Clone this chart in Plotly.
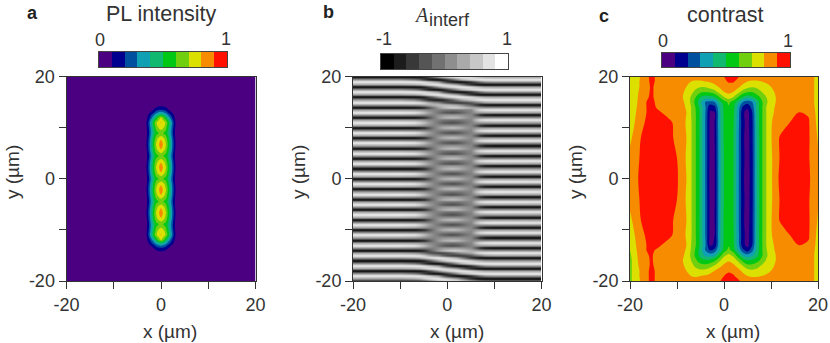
"""Three-panel map figure: PL intensity, interference amplitude and fringe contrast."""

import plotly.graph_objects as go

W, H = 830, 343

# shared band colours of the 0..1 rainbow scale
band_colors = ["#4b0082", "#00008f", "#0050a0", "#10a0b4", "#10b870",
               "#00c814", "#70d010", "#dce000", "#f88c00", "#ff1000"]
band_values = [0.05, 0.15, 0.25, 0.35, 0.45, 0.55, 0.65, 0.75, 0.85, 0.95]
grey_values = [-1, -0.78, -0.56, -0.33, -0.11, 0.11, 0.33, 0.56, 0.78, 1]

tick_vals = [-20, -10, 0, 10, 20]
tick_text = ["-20", "", "0", "", "20"]

# panel a: PL intensity in percent
pl_x = [-20, -3.5, -3, -2.5, -2, -1.5, -1, -0.5, 0, 0.5, 1, 1.5, 2, 2.5, 3, 3.5, 20]
pl_y = [20, 15, 14.2, 13.5, 13, 12.5, 12, 11, 10, 8.9, 7.8, 6.7, 5.6, 4.45, 3.3, 2.2, 1.1, 0,
        -1.1, -2.2, -3.3, -4.45, -5.6, -6.7, -7.8, -8.9, -10, -11, -12, -12.5, -13, -13.5, -14.2, -15, -20]
lobe = [0, 4, 11, 26, 42, 58, 71, 77, 91, 77, 71, 58, 42, 26, 11, 4, 0]
shoulder = [0, 4, 10, 24, 40, 54, 67, 73, 78, 73, 67, 54, 40, 24, 10, 4, 0]
valley = [0, 3, 9, 20, 35, 47, 56, 60, 62, 60, 56, 47, 35, 20, 9, 3, 0]
pl_cap = [
    [0, 1, 1, 1, 1, 1, 1, 1, 1, 1, 1, 1, 1, 1, 1, 1, 0],
    [0, 1, 1, 2, 2, 3, 4, 5, 5, 5, 4, 3, 2, 2, 1, 1, 0],
    [0, 1, 2, 3, 4, 5, 7, 9, 10, 9, 7, 5, 4, 3, 2, 1, 0],
    [0, 1, 2, 4, 7, 11, 16, 19, 20, 19, 16, 11, 7, 4, 2, 1, 0],
    [0, 2, 4, 8, 12, 18, 25, 30, 32, 30, 25, 18, 12, 8, 4, 2, 0],
    [0, 3, 7, 12, 20, 28, 37, 44, 48, 44, 37, 28, 20, 12, 7, 3, 0],
    [0, 3, 8, 16, 27, 38, 50, 62, 70, 62, 50, 38, 27, 16, 8, 3, 0],
    [0, 4, 11, 25, 41, 56, 69, 75, 81, 75, 69, 56, 41, 25, 11, 4, 0],
    [0, 4, 10, 22, 37, 51, 64, 71, 75, 71, 64, 51, 37, 22, 10, 4, 0],
]
pl_top = pl_cap + [valley, shoulder, lobe, shoulder, valley, shoulder, lobe, shoulder, valley]
pl_rows = pl_top + pl_top[-2::-1]

# panel b: interference amplitude in percent, rows repeat with the 2 um fringe period
fringe_x = [-20, -10, -7, -6, -5, -4, -3, -2, -1, 0, 1, 2, 3, 4, 5, 6, 7, 8, 10, 20]
fringe_y = [20 - i * 0.5 for i in range(81)]
mid_even = [-100, -100, -98, -88, -72, -42, -8, 19, 38, 45, 51, 45, 35, 19, 8, 15, 20, 22, 25, 22]
mid_half = [25, 25, 22, 18, 12, 6, 3, 10, 16, 18, 20, 18, 15, 10, 5, -35, -72, -92, -100, -98]
mid_odd = [88, 90, 85, 72, 52, 30, 10, -9, -28, -35, -41, -35, -25, -9, 2, 15, 20, 22, 25, 22]
mid_late = [25, 25, 22, 18, 12, 6, 3, 0, -6, -8, -10, -8, -5, 0, 5, 52, 75, 85, 88, 85]
end_even = [-100, -100, -98, -94, -76, -49, -14, 25, 54, 70, 81, 87, 87, 81, 70, 54, 41, 29, 25, 25]
end_half = [25, 25, 35, 44, 62, 76, 85, 88, 81, 70, 54, 35, 5, -32, -63, -86, -96, -100, -100, -100]
end_odd = [88, 88, 87, 85, 76, 62, 44, 25, -32, -63, -86, -98, -98, -86, -63, -32, -6, 16, 25, 25]
end_late = [25, 25, 5, -14, -49, -76, -94, -100, -86, -63, -32, 5, 35, 54, 70, 81, 86, 88, 88, 88]
edge_late = [25, 25, 5, -14, -46, -68, -80, -85, -74, -54, -28, 5, 30, 48, 62, 76, 86, 88, 88, 88]
edge_odd = [88, 88, 87, 83, 68, 46, 25, 12, -20, -38, -50, -58, -58, -50, -38, -15, -4, 16, 25, 25]
edge_half = [25, 25, 28, 31, 37, 41, 44, 49, 48, 44, 37, 26, 10, -11, -29, -60, -84, -96, -100, -99]
edge_even = [-100, -100, -98, -91, -74, -45, -11, 22, 46, 57, 66, 66, 61, 50, 39, 34, 30, 25, 25, 23]
edge_low = [25, 25, 13, 2, -18, -35, -45, -50, -46, -35, -21, -1, 15, 27, 37, 66, 80, 86, 88, 86]
fringe_rows = (
    [end_even, end_late, end_odd, end_half] * 2
    + [end_even, edge_late, edge_odd, edge_half, edge_even]
    + [mid_late, mid_odd, mid_half, mid_even] * 13
    + [mid_late, mid_odd, mid_half]
    + [edge_even, edge_low, edge_odd, end_half]
    + [end_even, end_late, end_odd, end_half] * 2
    + [end_even]
)

# panel c: fringe contrast in percent
contrast_x = [-20, -19, -18, -16.5, -15.5, -14, -12, -10, -9, -8, -7, -6, -5, -4, -3, -2, -1, 0,
              1, 2, 3, 4, 5, 6, 7, 8, 9, 10, 11, 12, 14, 16, 18, 19, 20]
contrast_y = [20, 19, 18, 17, 16, 15, 14, 13, 11, 8, 4, 0, -4, -8, -11, -13, -14, -15, -16, -17, -18, -19, -20]
contrast_rows = [
    [70, 76, 79, 88, 92, 88, 85, 85, 85, 84, 84, 84, 84, 85, 85, 86, 87, 90, 94, 95, 91, 87, 85, 84, 84, 84, 85, 85, 86, 86, 86, 85, 84, 81, 76],
    [70, 76, 80, 87, 92, 88, 85, 85, 83, 81, 80, 79, 79, 80, 81, 83, 85, 88, 91, 91, 87, 83, 80, 79, 79, 80, 81, 83, 84, 85, 85, 86, 85, 81, 76],
    [71, 76, 80, 87, 91, 88, 85, 84, 83, 80, 76, 73, 71, 71, 74, 77, 81, 84, 86, 85, 82, 77, 73, 71, 72, 75, 78, 80, 82, 84, 85, 86, 85, 81, 76],
    [71, 76, 81, 88, 91, 88, 85, 83, 81, 79, 73, 67, 62, 61, 62, 66, 74, 80, 83, 80, 74, 66, 61, 61, 65, 70, 74, 78, 81, 83, 85, 86, 85, 81, 76],
    [71, 76, 82, 89, 91, 88, 85, 83, 81, 77, 69, 60, 50, 47, 47, 50, 60, 70, 75, 70, 60, 50, 46, 49, 55, 63, 70, 76, 80, 83, 85, 86, 85, 81, 76],
    [71, 76, 83, 90, 92, 88, 85, 83, 82, 78, 68, 56, 42, 30, 27, 30, 44, 56, 62, 56, 44, 30, 24, 30, 44, 58, 68, 76, 80, 83, 85, 86, 85, 81, 76],
    [72, 77, 84, 90, 92, 89, 86, 84, 83, 79, 70, 59, 46, 32, 13, 17, 38, 52, 59, 53, 36, 18, 12, 24, 44, 58, 70, 77, 81, 84, 86, 88, 87, 82, 75],
    [73, 78, 85, 90, 92, 91, 88, 85, 84, 80, 70, 60, 47, 31, 9, 10, 37, 52, 58, 52, 35, 12, 6, 20, 43, 58, 70, 77, 82, 84, 87, 90, 89, 83, 76],
    [74, 80, 87, 91, 93, 94, 92, 88, 84, 79, 71, 60, 47, 30, 8, 10, 37, 51, 58, 51, 34, 13, 6, 18, 43, 58, 70, 79, 84, 86, 90, 94, 91, 84, 77],
    [78, 83, 89, 94, 95, 95, 93, 88, 84, 80, 71, 60, 47, 30, 8, 10, 36, 51, 58, 50, 33, 12, 5, 18, 42, 58, 70, 79, 87, 91, 95, 95, 91, 86, 79],
    [83, 86, 90, 95, 96, 96, 94, 90, 85, 79, 71, 60, 47, 30, 8, 9, 36, 50, 58, 50, 33, 13, 5, 17, 42, 58, 70, 78, 86, 91, 96, 96, 91, 85, 81],
    [84, 87, 91, 95, 96, 96, 95, 91, 86, 80, 71, 60, 47, 30, 7, 9, 36, 50, 58, 50, 33, 12, 4, 17, 42, 58, 70, 78, 87, 92, 96, 96, 92, 86, 82],
    [83, 86, 90, 95, 96, 96, 94, 90, 85, 79, 71, 60, 47, 30, 8, 9, 36, 50, 58, 50, 33, 13, 5, 17, 42, 58, 70, 78, 86, 91, 96, 96, 91, 85, 81],
    [78, 83, 89, 94, 95, 95, 93, 88, 84, 80, 71, 60, 47, 30, 8, 10, 36, 51, 58, 50, 33, 12, 5, 18, 42, 58, 70, 79, 87, 91, 95, 95, 91, 86, 79],
    [74, 80, 87, 91, 93, 94, 92, 88, 84, 79, 71, 60, 47, 30, 8, 10, 37, 51, 58, 51, 34, 13, 6, 18, 43, 58, 70, 79, 84, 86, 90, 94, 91, 84, 77],
    [72, 78, 85, 90, 92, 91, 88, 85, 84, 80, 70, 60, 47, 32, 9, 11, 37, 52, 59, 52, 35, 13, 7, 20, 43, 58, 70, 77, 82, 84, 86, 90, 89, 83, 76],
    [70, 77, 84, 90, 91, 89, 86, 84, 83, 79, 69, 58, 45, 30, 20, 24, 40, 55, 63, 55, 40, 23, 15, 27, 44, 58, 69, 77, 81, 84, 86, 88, 87, 82, 75],
    [68, 76, 83, 89, 91, 87, 85, 83, 82, 78, 68, 57, 46, 38, 36, 40, 54, 68, 73, 68, 54, 40, 34, 38, 47, 58, 68, 76, 80, 83, 85, 86, 85, 81, 76],
    [66, 76, 82, 88, 91, 87, 85, 83, 81, 77, 70, 62, 54, 52, 53, 58, 68, 76, 79, 76, 68, 57, 51, 52, 56, 63, 71, 77, 80, 83, 85, 86, 85, 81, 76],
    [66, 76, 81, 88, 91, 88, 85, 83, 81, 79, 73, 68, 64, 63, 66, 71, 77, 82, 85, 82, 77, 70, 63, 63, 66, 71, 75, 78, 81, 83, 85, 86, 85, 81, 76],
    [66, 76, 80, 88, 92, 88, 85, 84, 83, 80, 76, 73, 72, 73, 76, 80, 84, 87, 89, 87, 83, 78, 74, 72, 73, 75, 78, 80, 82, 84, 85, 86, 85, 81, 76],
    [66, 76, 80, 88, 92, 88, 85, 85, 83, 81, 80, 79, 80, 81, 83, 85, 87, 90, 92, 91, 87, 83, 80, 79, 79, 80, 81, 83, 84, 85, 85, 86, 85, 81, 76],
    [66, 76, 79, 88, 92, 88, 85, 85, 85, 84, 84, 84, 84, 85, 86, 87, 89, 93, 96, 96, 92, 87, 85, 84, 84, 84, 85, 85, 86, 86, 86, 85, 84, 81, 76],
]


def stepped(colors):
    """Colorscale with one flat band per colour."""
    n = len(colors)
    scale = []
    for i, c in enumerate(colors):
        scale += [[i / n, c], [(i + 1) / n, c]]
    return scale


def pct(rows):
    """Percent rows to fractions, flipped so y ascends."""
    return [[v / 100 for v in r] for r in rows[::-1]]


def dom_x(a, b):
    return [a / W, b / W]


def dom_y(top, bottom):
    return [1 - bottom / H, 1 - top / H]


def label(text, x, y, size=18, angle=0, font="Liberation Sans", color="#333333"):
    return dict(text=text, x=x / W, y=1 - y / H, xref="paper", yref="paper", showarrow=False,
                textangle=angle, xanchor="center", yanchor="middle",
                font=dict(family=font, size=size, color=color))


rainbow = stepped(band_colors)
fig = go.Figure()
fig.add_contour(
    x=pl_x, y=pl_y[::-1], z=pct(pl_rows), xaxis="x", yaxis="y", colorscale=rainbow, zmin=0, zmax=1,
    autocontour=False, contours=dict(start=0.1, end=0.9, size=0.1, coloring="fill", showlines=False),
    line=dict(width=0), showscale=False,
)
fig.add_heatmap(
    x=fringe_x, y=fringe_y[::-1], z=pct(fringe_rows), xaxis="x2", yaxis="y2", zmin=-1, zmax=1,
    zsmooth="best", colorscale=[[0, "#000000"], [1, "#ffffff"]], showscale=False,
)
fig.add_contour(
    x=contrast_x, y=contrast_y[::-1], z=pct(contrast_rows), xaxis="x3", yaxis="y3", colorscale=rainbow, zmin=0, zmax=1,
    autocontour=False, contours=dict(start=0.1, end=0.9, size=0.1, coloring="fill", showlines=False),
    line=dict(width=0), showscale=False,
)
# colour keys above the panels
fig.add_heatmap(z=[band_values], xaxis="x4", yaxis="y4", colorscale=rainbow, zmin=0, zmax=1, showscale=False)
fig.add_heatmap(z=[grey_values], xaxis="x5", yaxis="y5", zmin=-1, zmax=1,
                colorscale=[[0, "#000000"], [1, "#ffffff"]], showscale=False)
fig.add_heatmap(z=[band_values], xaxis="x6", yaxis="y6", colorscale=rainbow, zmin=0, zmax=1, showscale=False)

tick_font = dict(family="Liberation Sans", size=18, color="#333333")
axis = dict(range=[-20, 20], tickmode="array", tickvals=tick_vals, ticktext=tick_text, ticks="outside",
            ticklen=7, tickwidth=1, tickcolor="#333333", showgrid=False, zeroline=False, showline=True,
            linecolor="#333333", linewidth=1, mirror=True, tickfont=tick_font, automargin=False)
key_axis = dict(showticklabels=False, ticks="", showgrid=False, zeroline=False, showline=True,
                linecolor="#444444", linewidth=1, mirror=True, automargin=False)

panels = [(66.5, 255.5), (353, 541.5), (630, 818)]
keys = [(99, 227, 52, 67), (381, 508, 54, 69), (662, 790, 53, 67)]
axes = {}
for i, (left, right) in enumerate(panels, start=1):
    suffix = "" if i == 1 else str(i)
    axes["xaxis" + suffix] = dict(axis, domain=dom_x(left, right), anchor="y" + suffix)
    axes["yaxis" + suffix] = dict(axis, domain=dom_y(76.5, 281), anchor="x" + suffix)
for i, (left, right, top, bottom) in enumerate(keys, start=4):
    axes[f"xaxis{i}"] = dict(key_axis, domain=dom_x(left, right), anchor=f"y{i}")
    axes[f"yaxis{i}"] = dict(key_axis, domain=dom_y(top, bottom), anchor=f"x{i}")
fig.update_layout(**axes)

notes = [
    label("a", 32, 13, size=18, font="Liberation Sans", color="#222222"),
    label("b", 328, 12, size=18, color="#222222"),
    label("c", 604, 16, size=18, color="#222222"),
    label("PL intensity", 161, 14, size=21.5),
    label("contrast", 725, 15, size=21.5),
    label("<i>A</i>", 421, 15, size=20, font="Liberation Serif"),
    label("interf", 449, 20, size=18),
    label("0", 100, 40), label("1", 226, 39),
    label("-1", 384, 39), label("1", 507, 39),
    label("0", 663, 41), label("1", 788, 41),
    label("x (µm)", 170, 331, size=19), label("x (µm)", 457, 331, size=19), label("x (µm)", 733, 331, size=19),
    label("y (µm)", 12, 172, size=19, angle=-90), label("y (µm)", 298, 172, size=19, angle=-90),
    label("y (µm)", 575, 172, size=19, angle=-90),
]
for note in notes[:3]:
    note["text"] = f"<b>{note['text']}</b>"

fig.update_layout(width=W, height=H, margin=dict(l=0, r=0, t=0, b=0), paper_bgcolor="white",
                  plot_bgcolor="white", showlegend=False, annotations=notes)
# the browser's default 8px body margin would push the figure off the window
fig.write_html("out.html", config={"displayModeBar": False},
               post_script="document.body.style.margin = '0';")
